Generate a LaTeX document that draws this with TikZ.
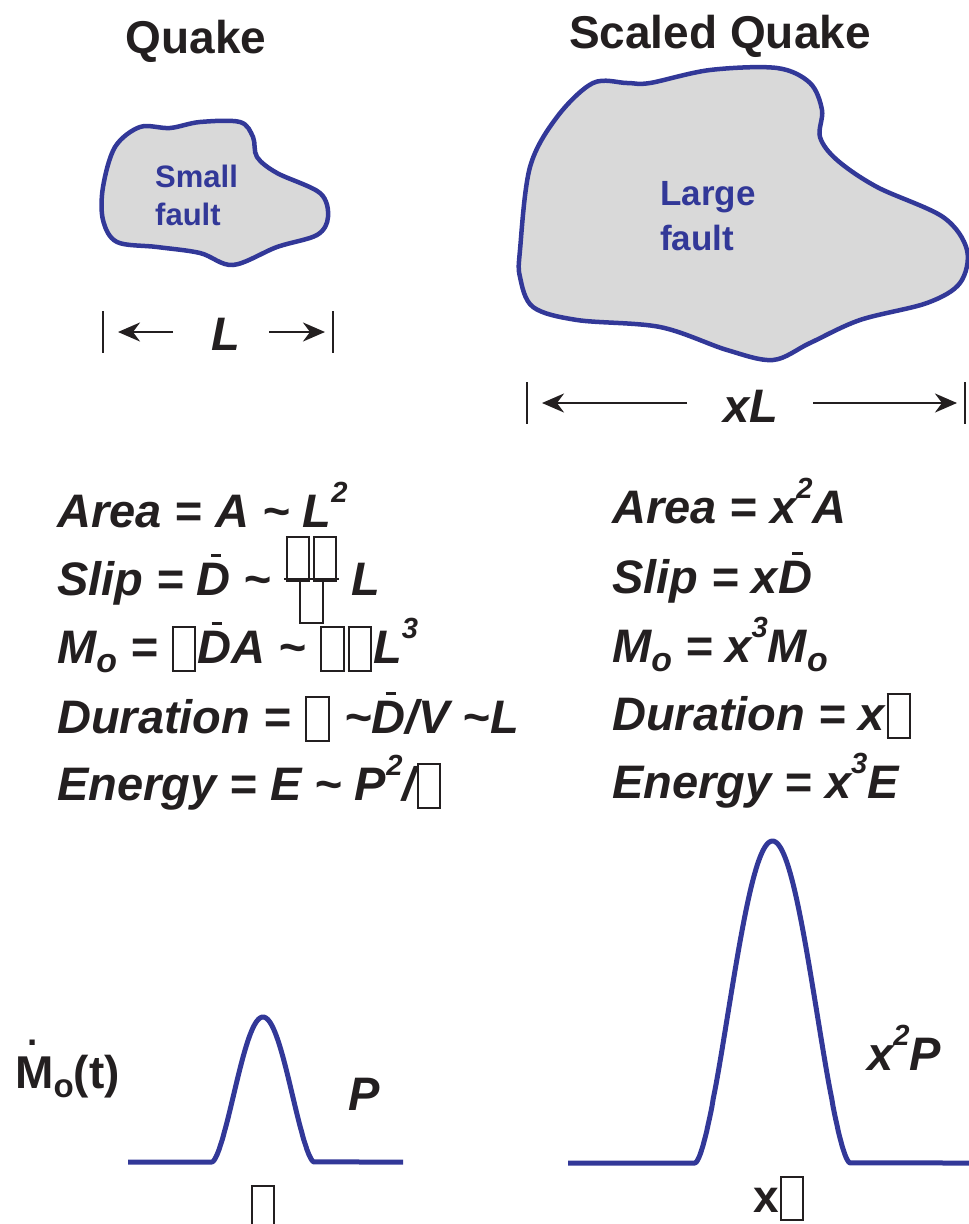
\documentclass[tikz,border=0pt]{standalone}
\usepackage{fontspec}
\setmainfont{Liberation Sans}
\usepackage{xcolor}
\usepackage{tikz}
\usetikzlibrary{arrows.meta}

\definecolor{faultblue}{RGB}{50,56,152}
\definecolor{faultgray}{RGB}{217,217,217}
\definecolor{ink}{RGB}{35,31,32}

\newcommand{\nog}{\kern0.03em{\setlength{\fboxsep}{0pt}\setlength{\fboxrule}{2pt}%
  \fbox{\rule[-0.15em]{0pt}{0.9em}\hspace{0.43em}}}\kern0.03em}
\newcommand{\Dbar}{\makebox[0pt][l]{\hspace{0.3em}\rule[0.8em]{0.22em}{0.08em}}D}
\newcommand{\sups}[1]{\raisebox{0.52em}{\scalebox{0.62}{#1}}}
\newcommand{\subo}{\raisebox{-0.2em}{\scalebox{0.72}{o}}}
\newcommand{\stackfrac}{%
  \setbox0=\hbox{\nog\nog}%
  \rlap{\raisebox{0.47em}{\copy0}}%
  \rlap{\rule[0.31em]{\wd0}{2pt}}%
  \makebox[\wd0]{\raisebox{-0.43em}{\nog}}}
\newcommand{\Mdot}{\makebox[0pt][l]{\hspace{0.26em}\raisebox{0.93em}{\scalebox{0.8}{.}}}M}

\begin{document}
\begin{tikzpicture}[x=1pt, y=-1pt,
    title/.style={anchor=base, inner sep=0, text=ink, font=\fontsize{46}{55}\selectfont\bfseries},
    eq/.style={anchor=base west, inner sep=0, text=ink, font=\fontsize{47}{56}\selectfont\bfseries\itshape},
    flab/.style={anchor=base west, inner sep=0, align=left, text=faultblue},
    fault/.style={draw=faultblue, fill=faultgray, line width=4.5pt},
    bar/.style={draw=ink, line width=2.4pt},
    dim/.style={draw=ink, line width=2.2pt, -{Stealth[length=22pt, width=19pt, inset=7pt]}},
    pulse/.style={draw=faultblue, line width=5pt, line join=round}]
    \useasboundingbox (0,0) rectangle (969,1224);

    \node[title] (quake) at (196,53) {Quake};
    \node[title] (scaled) at (720,48) {Scaled Quake};

    \draw[fault] plot[smooth cycle, tension=0.55] coordinates {
        (140,127) (170,128) (200,122) (240,122) (253,137) (257,157) (277,173)
        (320,193) (328,217) (317,235) (277,247) (233,265) (200,253) (157,247)
        (117,242) (103,220) (103,187) (115,147)};
    \draw[fault] plot[smooth cycle, tension=0.55] coordinates {
        (520,250) (530,167) (557,117) (593,83) (627,83) (650,83) (710,70)
        (777,68) (810,83) (822,110) (820,137) (837,160) (877,187) (943,217)
        (967,250) (960,283) (927,303) (860,320) (810,343) (773,360) (727,350)
        (660,327) (577,320) (533,307) (520,277)};
    \node[flab, font=\fontsize{31}{38}\selectfont\bfseries] (small) at (155,225) {Small\\fault};
    \node[flab, font=\fontsize{35}{45}\selectfont\bfseries] (large) at (660,250) {Large\\fault};

    \coordinate (sl) at (103,332);
    \coordinate (sr) at (333,332);
    \node[eq, anchor=base] (lenS) at (226,350) {L};
    \draw[bar] ([yshift=21pt]sl) -- ([yshift=-21pt]sl);
    \draw[bar] ([yshift=21pt]sr) -- ([yshift=-21pt]sr);
    \draw[dim] ([xshift=70pt]sl) -- ([xshift=15pt]sl);
    \draw[dim] ([xshift=-64pt]sr) -- ([xshift=-8pt]sr);

    \coordinate (ll) at (527,403);
    \coordinate (lr) at (965,403);
    \node[eq, anchor=base] (lenL) at (751,422) {xL};
    \draw[bar] ([yshift=21pt]ll) -- ([yshift=-21pt]ll);
    \draw[bar] ([yshift=21pt]lr) -- ([yshift=-21pt]lr);
    \draw[dim] ([xshift=160pt]ll) -- ([xshift=15pt]ll);
    \draw[dim] ([xshift=-152pt]lr) -- ([xshift=-8pt]lr);

    \node[eq] (areaA) at (57,527) {Area = A \textasciitilde{} L\sups{2}};
    \node[eq] (slipA) at (57,595) {Slip = \Dbar{} \textasciitilde{} \stackfrac{} L};
    \node[eq] (momA) at (57,663) {M\subo{} = \nog\Dbar A \textasciitilde{} \nog\nog L\sups{3}};
    \node[eq] (durA) at (57,733) {Duration = \nog{} \textasciitilde\Dbar/V \textasciitilde L};
    \node[eq] (enA) at (57,800) {Energy = E \textasciitilde{} P\sups{2}/\nog};

    \node[eq] (areaB) at (612,523) {Area = x\sups{2}A};
    \node[eq] (slipB) at (612,593) {Slip = x\Dbar};
    \node[eq] (momB) at (612,662) {M\subo{} = x\sups{3}M\subo};
    \node[eq] (durB) at (612,730) {Duration = x\nog};
    \node[eq] (enB) at (612,798) {Energy = x\sups{3}E};

    \draw[pulse] (128,1162) -- (212,1162)
        -- plot[domain=212:314, samples=100] (\x, {1162-145*pow(max(0.5-0.5*cos(3.5294*(\x-212)),0.00001),0.8)})
        -- (403,1162);
    \draw[pulse] (568,1163) -- (695,1163)
        -- plot[domain=695:850, samples=120] (\x, {1163-322*pow(max(0.5-0.5*cos(2.3226*(\x-695)),0.00001),0.8)})
        -- (969,1163);

    \node[eq, font=\fontsize{46}{55}\selectfont\bfseries] (rate) at (15,1088) {\Mdot\subo(t)};
    \node[eq] (peakS) at (348,1110) {P};
    \node[eq] (peakL) at (867,1070) {x\sups{2}P};
    \node[eq, anchor=base] (durS) at (263,1222) {\nog};
    \node[eq, font=\fontsize{46}{55}\selectfont\bfseries] (durL) at (753,1212) {x\nog};
\end{tikzpicture}
\end{document}
